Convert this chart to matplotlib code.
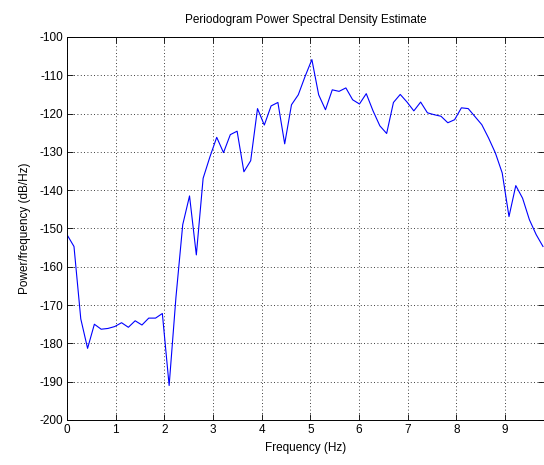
import numpy as np
import matplotlib
matplotlib.use('Agg')
import matplotlib.pyplot as plt

# frequency grid step (Hz) and PSD estimate (dB/Hz)
df = 0.1397
psd_db = [
    -151.7, -154.7, -173.6, -181.3, -175.0, -176.3, -176.1, -175.6, -174.6, -175.8,
    -174.1, -175.2, -173.4, -173.4, -172.2, -191.0, -168.0, -149.0, -141.5, -156.9,
    -136.9, -131.3, -126.2, -130.2, -125.5, -124.6, -135.2, -132.3, -118.7, -123.0,
    -118.0, -117.1, -127.9, -117.7, -115.1, -110.3, -105.9, -115.1, -119.0, -113.8,
    -114.2, -113.3, -116.4, -117.5, -114.8, -119.3, -123.2, -125.2, -117.1, -115.0,
    -117.0, -119.3, -117.0, -119.8, -120.3, -120.7, -122.4, -121.6, -118.5, -118.7,
    -120.8, -122.9, -126.4, -130.3, -135.5, -146.9, -138.8, -142.1, -147.7, -151.6,
    -154.7,
]
freqs = np.arange(len(psd_db)) * df

xticks = [0, 1, 2, 3, 4, 5, 6, 7, 8, 9]
yticks = [-200, -190, -180, -170, -160, -150, -140, -130, -120, -110, -100]

plt.rcParams['font.family'] = ['Liberation Sans', 'DejaVu Sans']
plt.rcParams['font.size'] = 8.5
plt.rcParams['axes.unicode_minus'] = False

fig = plt.figure(figsize=(5.44, 4.65), dpi=100)
ax = fig.add_axes([0.1235, 0.0968, 0.8765, 0.8237])

ax.plot(freqs, psd_db, color='#0000ff', linewidth=0.8)

ax.set_xlim(0, 9.80)
ax.set_ylim(-200, -100)
ax.set_xticks(xticks)
ax.set_yticks(yticks)
ax.grid(True, linestyle=(0, (1, 3)), color='black', linewidth=0.6)
ax.tick_params(direction='in', top=True, right=True, length=4, width=0.6, pad=3)
for s in ax.spines.values():
    s.set_linewidth(0.7)
ax.spines['right'].set_visible(False)

ax.set_title('Periodogram Power Spectral Density Estimate', fontsize=8.5, pad=10)
ax.set_xlabel('Frequency (Hz)', labelpad=4)
ax.set_ylabel('Power/frequency (dB/Hz)', labelpad=6)

fig.savefig('out.png', dpi=100)
